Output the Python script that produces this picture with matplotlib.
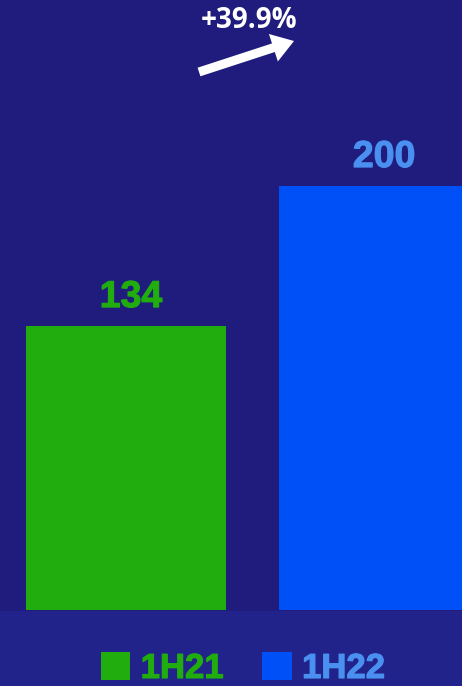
import matplotlib
matplotlib.use('Agg')
import matplotlib.pyplot as plt
import matplotlib.patheffects as pe
from matplotlib.patches import Patch, Rectangle

periods = ['1H21', '1H22']
values = [134, 200]
barColors = ['#21ad0e', '#0050f8']
labelColors = ['#21ad0e', '#4a90f0']
growthText = '+39.9%'

bgTop = '#201c7e'
bgBottom = '#22238a'

fig = plt.figure(figsize=(4.62, 6.86), dpi=100)
fig.patch.set_facecolor(bgTop)
# slightly lighter band under the bars
fig.patches.append(Rectangle((0, 0), 1, 75 / 686, transform=fig.transFigure,
                             facecolor=bgBottom, edgecolor='none', zorder=0))

ax = fig.add_axes([0, 76 / 686, 1, 610 / 686])
ax.set_facecolor('none')
xPos = list(range(len(periods)))
ax.bar(xPos, values, width=0.79, color=barColors)
ax.set_xlim(-0.498, 1.328)
ax.set_ylim(0, 287.5)
ax.axis('off')

for x, v, c in zip(xPos, values, labelColors):
    ax.text(x + 0.02, v + 5, str(v), ha='center', va='bottom', color=c,
            fontsize=27, fontweight='bold', family='Liberation Sans',
            path_effects=[pe.withStroke(linewidth=0.8, foreground=c)])

# growth annotation
fig.text(249 / 462, 1 - 20 / 686, growthText, ha='center', va='center',
         color='white', fontsize=20, fontweight='bold', family='Open Sans')
ax.annotate('', xy=(294 / 462, 1 - 41 / 686), xytext=(199 / 462, 1 - 72 / 686),
            xycoords='figure fraction', textcoords='figure fraction',
            arrowprops=dict(arrowstyle='simple,head_length=1.2,head_width=1.6,tail_width=0.5',
                            color='white', lw=0, shrinkA=0, shrinkB=0,
                            mutation_scale=13))

handles = [Patch(facecolor=c, edgecolor='none') for c in barColors]
leg = fig.legend(handles, periods, loc='center', bbox_to_anchor=(243 / 462, 1 - 668.5 / 686),
                 ncol=2, frameon=False, handlelength=0.85, handleheight=0.85,
                 handletextpad=0.3, columnspacing=1.1,
                 prop={'family': 'Liberation Sans', 'weight': 'bold', 'size': 25})
for t, c in zip(leg.get_texts(), labelColors):
    t.set_color(c)
    t.set_path_effects([pe.withStroke(linewidth=0.8, foreground=c)])

fig.savefig('out.png', dpi=100, facecolor=fig.get_facecolor())
